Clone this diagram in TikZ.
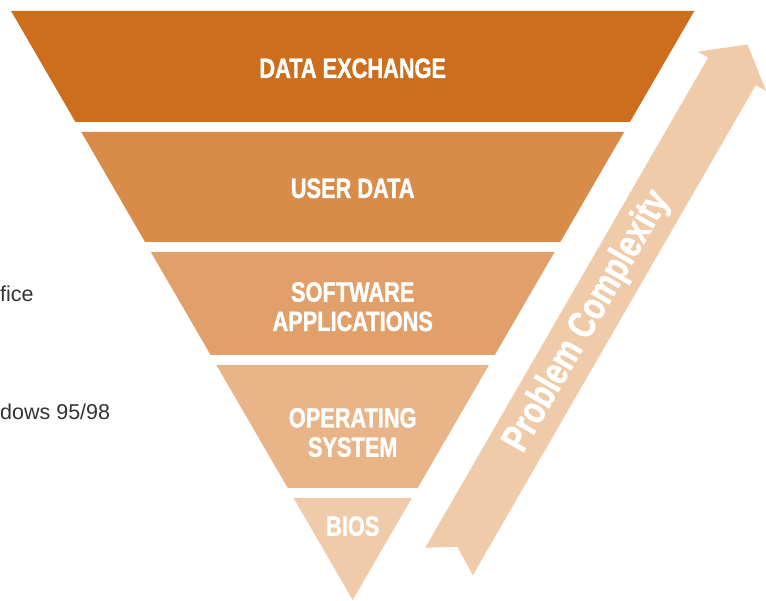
\documentclass[tikz,border=0pt]{standalone}
\usepackage{fontspec}
\setmainfont{Liberation Sans}
\newfontfamily\condfont{Liberation Sans}[FakeStretch=0.78, BoldFeatures={FakeBold=1.2}]
\usepackage{tikz}
\definecolor{bandA}{HTML}{CC6E1B}
\definecolor{bandB}{HTML}{D98B4A}
\definecolor{bandC}{HTML}{E19F69}
\definecolor{bandD}{HTML}{E8B488}
\definecolor{bandE}{HTML}{F0CBA9}
\def\band[#1](#2:#3){\fill[#1] ({352.7-0.58*#2}, #2) -- ({352.7+0.58*#2}, #2) -- ({352.7+0.58*#3}, #3) -- ({352.7-0.58*#3}, #3) -- cycle;}
\tikzset{
	layer/.style={text=white, align=center, inner sep=0pt, font=\condfont\bfseries\fontsize{27.9}{29.3}\selectfont},
	sidetext/.style={text=black!80, anchor=base west, inner sep=0pt, font=\fontsize{21.5}{24}\selectfont}
}

\begin{document}
\begin{tikzpicture}[x=1pt, y=1pt]
			%%%%% START %%%%%
			\useasboundingbox (0, 0) rectangle (766, 600);
			
			\band[bandA](589:478)
			\band[bandB](468:358)
			\band[bandC](348:245)
			\band[bandD](235:112)
			\band[bandE](102:0)
			
			\node[layer] (exchange) at (352.7, 531.7) {DATA EXCHANGE};
			\node[layer] (userdata) at (352.7, 411.7) {USER DATA};
			\node[layer] (software) at (352.7, 293.3) {SOFTWARE\\APPLICATIONS};
			\node[layer] (opsys) at (352.7, 167.5) {OPERATING\\SYSTEM};
			\node[layer] (bios) at (352.7, 73.8) {BIOS};
			
			\node[sidetext] (office) at (0, 298.3) {fice};
			\node[sidetext] (windows) at (0, 180.7) {dows 95/98};
			
			\begin{scope}[shift={(449, 38.5)}, rotate=60]
				\fill[bandE] (0, 27.5) -- (566, 27.5) -- (566, 39.4) -- (597, 0) -- (566, -39.4) -- (566, -27.5) -- (0, -27.5) -- (17, 0) -- cycle;
				\node[text=white, rotate=60, inner sep=0pt, font=\condfont\bfseries\fontsize{39}{41}\selectfont] (complexity) at (277, 0) {Problem Complexity};
			\end{scope}
			
			%%%%% END %%%%%
\end{tikzpicture}
\end{document}
